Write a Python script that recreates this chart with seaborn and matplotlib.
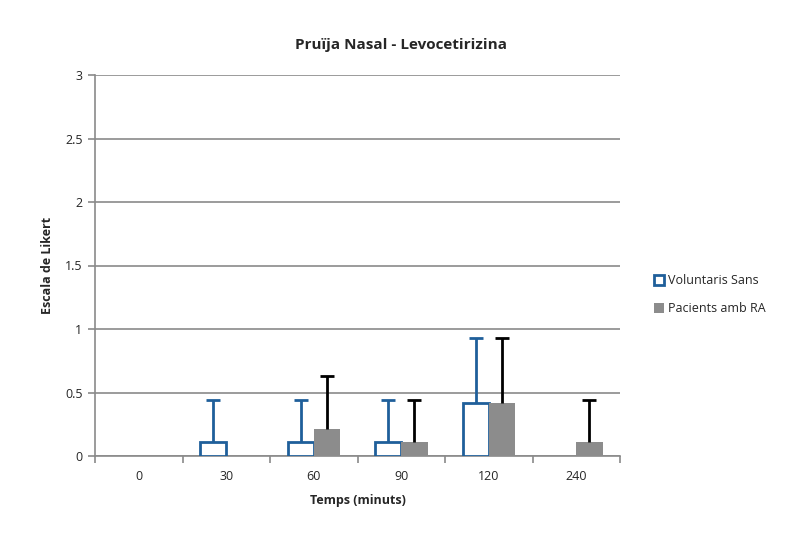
import numpy as np
import pandas as pd
import matplotlib
matplotlib.use("Agg")
import matplotlib.pyplot as plt
import seaborn as sns
from matplotlib.patches import Patch

categories = ["0", "30", "60", "90", "120", "240"]
series = ["Voluntaris Sans", "Pacients amb RA"]
voluntaris = [0, 0.11, 0.11, 0.11, 0.42, 0]
voluntaris_err = [0, 0.33, 0.33, 0.33, 0.51, 0]
pacients = [0, 0, 0.21, 0.11, 0.42, 0.11]
pacients_err = [0, 0, 0.42, 0.33, 0.51, 0.33]
yticks = [0, 0.5, 1, 1.5, 2, 2.5, 3]
ytick_labels = ["0", "0.5", "1", "1.5", "2", "2.5", "3"]

sns.set_theme(style="white")
plt.rcParams["font.family"] = ["Open Sans", "DejaVu Sans"]

df = pd.DataFrame({
    "Temps": categories * 2,
    "Serie": [series[0]] * len(categories) + [series[1]] * len(categories),
    "Valor": voluntaris + pacients,
})

fig = plt.figure(figsize=(7.86, 5.35), dpi=100)
ax = fig.add_axes([95 / 786, 79 / 535, 525 / 786, 381 / 535])

blue = "#1f5f9a"
gray = "#8c8c8c"
sns.barplot(data=df, x="Temps", y="Valor", hue="Serie", order=categories,
            hue_order=series, palette=["white", gray], width=0.6,
            errorbar=None, ax=ax, legend=False, zorder=3)

n = len(categories)
patches = ax.patches
for p in patches[:n]:
    p.set_facecolor("white")
    p.set_edgecolor(blue)
    p.set_linewidth(2)
    p.set_zorder(3)
for p in patches[n:2 * n]:
    p.set_facecolor(gray)
    p.set_edgecolor("none")
    p.set_zorder(3)
for p in patches[:2 * n]:
    if p.get_height() == 0:
        p.set_visible(False)

for group, vals, errs, col in [(patches[:n], voluntaris, voluntaris_err, blue),
                               (patches[n:2 * n], pacients, pacients_err, "black")]:
    xs, ys, es = [], [], []
    for p, v, e in zip(group, vals, errs):
        if e > 0:
            xs.append(p.get_x() + p.get_width() / 2)
            ys.append(v)
            es.append(e)
    _, caps, _ = ax.errorbar(xs, ys, yerr=[np.zeros(len(es)), es], fmt="none", ecolor=col,
                             elinewidth=2, capsize=5, capthick=2, zorder=4)
    caps[0].set_visible(False)

ax.set_ylim(0, 3)
ax.set_xlim(-0.5, n - 0.5)
ax.set_yticks(yticks)
ax.set_yticklabels(ytick_labels, fontsize=9)
ax.yaxis.grid(True, color="#8a8a8a", linewidth=1.2, zorder=0)
ax.set_axisbelow(True)
ax.tick_params(axis="x", which="major", length=0, labelsize=9, pad=10)
ax.set_xticks(np.arange(-0.5, n, 1.0), minor=True)
ax.tick_params(axis="x", which="minor", length=5, color="#8a8a8a", width=1.2, direction="out", bottom=True)
ax.tick_params(axis="y", length=5, color="#8a8a8a", width=1.2, direction="out", left=True, pad=4)
for side in ["top", "right"]:
    ax.spines[side].set_visible(False)
for side in ["left", "bottom"]:
    ax.spines[side].set_color("#8a8a8a")
    ax.spines[side].set_linewidth(1.2)

ax.set_xlabel("Temps (minuts)", fontsize=9, fontweight="bold", labelpad=8)
ax.set_ylabel("Escala de Likert", fontsize=9, fontweight="bold", labelpad=8)
fig.text(401 / 786, 1 - 45 / 535, "Pruïja Nasal - Levocetirizina", ha="center",
         va="center", fontsize=11, fontweight="bold")

handles = [Patch(facecolor="white", edgecolor=blue, linewidth=2, label=series[0]),
           Patch(facecolor=gray, edgecolor="none", label=series[1])]
fig.legend(handles=handles, loc="center left", bbox_to_anchor=(643 / 786, 1 - 295 / 535),
           frameon=False, fontsize=9, handlelength=0.8, handleheight=0.8,
           handletextpad=0.3, labelspacing=1.2)

fig.savefig("out.png", dpi=100)
